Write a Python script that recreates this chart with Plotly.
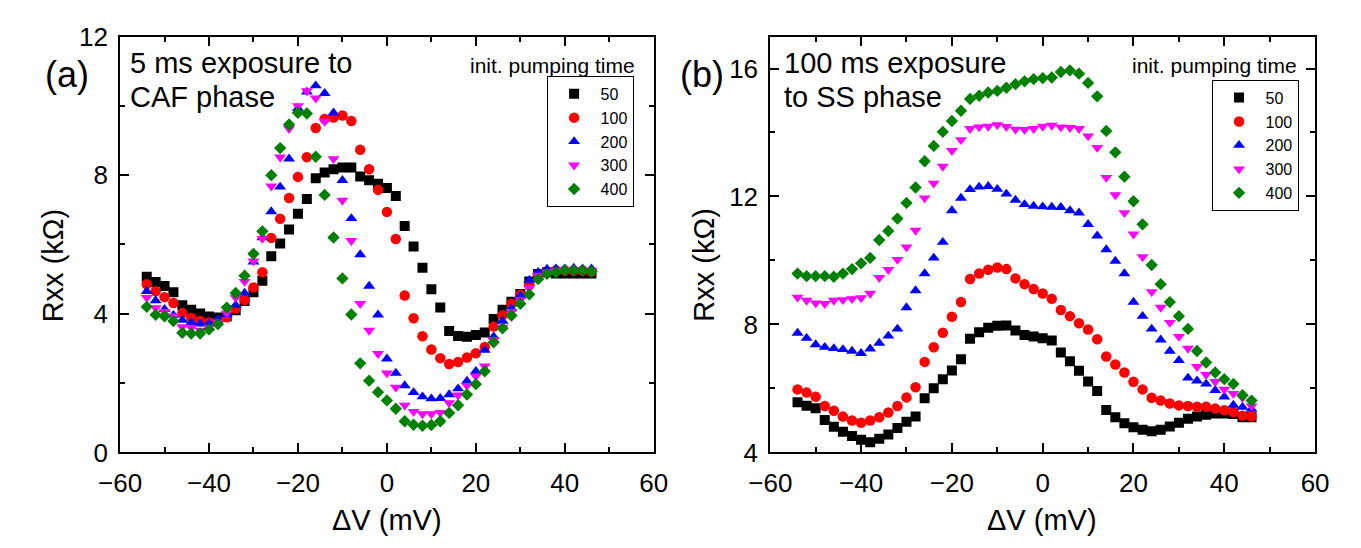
import plotly.graph_objects as go

# ---------------- data ----------------
dV = list(range(-54, 47, 2))  # mV

series_names = ["50", "100", "200", "300", "400"]

# panel (a): 5 ms exposure to CAF phase
a_50 = [5.07, 4.92, 4.80, 4.62, 4.25, 4.12, 4.01, 3.92, 3.89, 3.93, 4.10, 4.37, 4.62, 4.95, 5.66, 6.03, 6.43, 6.89, 7.31, 7.91,
        8.08, 8.17, 8.22, 8.22, 7.96, 7.85, 7.75, 7.63, 7.40, 6.53, 5.94, 5.33, 4.71, 4.18, 3.50, 3.36, 3.34, 3.39, 3.46, 3.85,
        4.12, 4.35, 4.57, 4.93, 5.15, 5.20, 5.16, 5.16, 5.16, 5.16, 5.16]
a_100 = [4.85, 4.65, 4.48, 4.31, 4.02, 3.88, 3.79, 3.75, 3.77, 3.90, 4.15, 4.40, 4.76, 5.20, 6.19, 6.74, 7.34, 7.95, 8.52, 9.36,
         9.62, 9.66, 9.72, 9.56, 8.73, 8.17, 7.58, 6.94, 6.16, 4.53, 3.87, 3.35, 2.97, 2.72, 2.55, 2.61, 2.74, 2.86, 3.04, 3.63,
         3.96, 4.29, 4.55, 4.82, 5.12, 5.21, 5.25, 5.25, 5.25, 5.25, 5.22]
a_200 = [4.65, 4.38, 4.13, 3.96, 3.82, 3.75, 3.71, 3.72, 3.84, 3.98, 4.25, 4.60, 5.50, 6.20, 6.95, 7.66, 8.47, 9.93, 10.40, 10.58,
         10.36, 9.80, 7.85, 6.75, 5.71, 4.80, 3.97, 2.70, 2.29, 1.93, 1.73, 1.61, 1.55, 1.56, 1.67, 1.84, 2.06, 2.34, 2.95, 3.34,
         3.79, 4.15, 4.52, 4.97, 5.20, 5.29, 5.30, 5.30, 5.32, 5.30, 5.30]
a_300 = [4.47, 4.17, 4.06, 3.93, 3.62, 3.60, 3.52, 3.60, 3.76, 4.02, 4.47, 4.93, 5.52, 6.17, 7.68, 8.52, 9.34, 10.00, 10.43, 10.22,
         9.55, 8.47, 7.27, 6.11, 4.29, 3.52, 2.85, 2.29, 1.88, 1.36, 1.18, 1.11, 1.11, 1.15, 1.43, 1.65, 1.93, 2.20, 2.49, 3.25,
         3.61, 4.06, 4.40, 4.75, 5.11, 5.20, 5.25, 5.25, 5.25, 5.22, 5.25]
a_400 = [4.20, 3.97, 3.93, 3.79, 3.45, 3.43, 3.43, 3.55, 3.70, 4.18, 4.60, 5.10, 5.73, 6.38, 8.00, 8.78, 9.46, 9.80, 9.78, 8.53,
         7.43, 6.20, 5.02, 3.98, 2.57, 2.07, 1.74, 1.50, 1.26, 0.90, 0.80, 0.77, 0.79, 0.90, 1.14, 1.36, 1.67, 1.97, 2.34, 3.18,
         3.58, 3.95, 4.29, 4.56, 5.00, 5.15, 5.20, 5.25, 5.25, 5.25, 5.22]

# panel (b): 100 ms exposure to SS phase
b_50 = [5.57, 5.46, 5.38, 5.01, 4.80, 4.65, 4.51, 4.40, 4.32, 4.43, 4.56, 4.76, 4.96, 5.12, 5.69, 6.01, 6.29, 6.56, 6.91, 7.55,
        7.76, 7.90, 7.96, 7.97, 7.81, 7.67, 7.62, 7.57, 7.50, 7.12, 6.85, 6.55, 6.22, 5.92, 5.33, 5.10, 4.91, 4.79, 4.71, 4.66,
        4.71, 4.81, 4.93, 5.05, 5.12, 5.18, 5.22, 5.22, 5.20, 5.10, 5.10]
b_100 = [5.97, 5.87, 5.74, 5.45, 5.30, 5.12, 5.00, 4.93, 5.00, 5.10, 5.25, 5.45, 5.72, 6.04, 6.83, 7.29, 7.74, 8.24, 8.70, 9.42,
         9.59, 9.71, 9.78, 9.73, 9.44, 9.26, 9.11, 8.97, 8.80, 8.45, 8.26, 8.04, 7.84, 7.54, 7.00, 6.75, 6.50, 6.21, 5.97, 5.71,
         5.62, 5.53, 5.47, 5.45, 5.43, 5.43, 5.37, 5.32, 5.26, 5.15, 5.12]
b_200 = [7.73, 7.57, 7.37, 7.29, 7.25, 7.22, 7.17, 7.10, 7.24, 7.42, 7.64, 7.86, 8.53, 9.06, 9.59, 10.08, 10.57, 11.56, 11.95, 12.22,
         12.30, 12.32, 12.23, 12.08, 11.89, 11.75, 11.70, 11.68, 11.67, 11.66, 11.56, 11.49, 11.13, 10.77, 10.34, 9.98, 9.59, 8.70, 8.26, 7.86,
         7.52, 7.17, 6.88, 6.33, 6.24, 6.14, 5.94, 5.74, 5.48, 5.42, 5.35]
b_300 = [8.85, 8.75, 8.67, 8.65, 8.75, 8.77, 8.80, 8.83, 8.97, 9.46, 9.71, 10.03, 10.42, 10.94, 11.95, 12.41, 12.94, 13.43, 13.77, 14.12,
         14.17, 14.19, 14.24, 14.18, 14.10, 14.09, 14.12, 14.19, 14.22, 14.17, 14.15, 14.12, 13.89, 13.53, 12.59, 12.05, 11.49, 10.82, 10.11, 9.02,
         8.53, 8.06, 7.62, 7.25, 6.68, 6.43, 6.21, 5.97, 5.84, 5.71, 5.45]
b_400 = [9.59, 9.51, 9.51, 9.51, 9.49, 9.59, 9.73, 9.91, 10.08, 10.64, 10.92, 11.31, 11.80, 12.28, 13.10, 13.58, 14.02, 14.36, 14.68, 15.05,
         15.15, 15.25, 15.30, 15.40, 15.51, 15.60, 15.67, 15.70, 15.72, 15.89, 15.94, 15.84, 15.55, 15.13, 14.05, 13.38, 12.62, 11.85, 11.13, 9.86,
         9.26, 8.70, 8.26, 7.86, 7.17, 6.81, 6.50, 6.29, 6.14, 5.79, 5.62]

panel_a = [a_50, a_100, a_200, a_300, a_400]
panel_b = [b_50, b_100, b_200, b_300, b_400]

# ---------------- style ----------------
colors = ["#000000", "#FF0000", "#0000FF", "#FF00FF", "#008000"]
symbols = ["square", "circle", "triangle-up", "triangle-down", "diamond"]
sizes = [10, 10.5, 10.5, 10.5, 9.5]
FONT = "Arial, Liberation Sans, sans-serif"
W, H = 1361, 548

fig = go.Figure()
for i, name in enumerate(series_names):
    fig.add_trace(go.Scatter(
        x=dV, y=panel_a[i], mode="markers", name=name,
        marker=dict(symbol=symbols[i], color=colors[i], size=sizes[i], line=dict(width=0)),
        xaxis="x", yaxis="y", legend="legend"))
for i, name in enumerate(series_names):
    fig.add_trace(go.Scatter(
        x=dV, y=panel_b[i], mode="markers", name=name,
        marker=dict(symbol=symbols[i], color=colors[i], size=sizes[i], line=dict(width=0)),
        xaxis="x2", yaxis="y2", legend="legend2"))

def px_x(p):
    return p / W

def px_y(p):
    return 1 - p / H

common = dict(
    showline=True, linecolor="black", linewidth=2, mirror="allticks",
    ticks="inside", ticklen=9, tickwidth=1.5, tickcolor="black",
    showgrid=False, zeroline=False, ticklabeloverflow="allow",
    tickfont=dict(family=FONT, size=26, color="black"),
    minor=dict(ticks="inside", ticklen=5, tickwidth=1.5, tickcolor="black", showgrid=False),
)
xcommon = dict(common, ticklabelstandoff=6)
ycommon = dict(common, ticklabelstandoff=5)

ydom = [px_y(454.3), px_y(14.3)]
legend_style = dict(xanchor="right", yanchor="top",
                    bordercolor="black", borderwidth=1, bgcolor="white",
                    font=dict(family=FONT, size=16, color="black"),
                    itemwidth=43, tracegroupgap=0)
fig.update_layout(
    width=W, height=H,
    margin=dict(l=0, r=0, t=0, b=0),
    paper_bgcolor="white", plot_bgcolor="white",
    font=dict(family=FONT, color="black"),
    xaxis=dict(domain=[px_x(92.5), px_x(640.7)], range=[-60, 60], dtick=20, tick0=0,
               anchor="y", **xcommon),
    yaxis=dict(domain=ydom, range=[0, 12], dtick=4, tick0=0, anchor="x", **ycommon),
    xaxis2=dict(domain=[px_x(760.4), px_x(1320)], range=[-60, 60], dtick=20, tick0=0,
                anchor="y2", **xcommon),
    yaxis2=dict(domain=ydom, range=[4, 17], dtick=4, tick0=4, anchor="x2", **ycommon),
    legend=dict(x=px_x(620), y=px_y(56), **legend_style),
    legend2=dict(x=px_x(1303), y=px_y(60), **legend_style),
)
fig.update_xaxes(minor_dtick=10)
fig.update_yaxes(minor_dtick=2)

def ann(text, x, y, size, xanchor="center", yanchor="middle", angle=0):
    fig.add_annotation(text=text, x=px_x(x), y=px_y(y), xref="paper", yref="paper",
                       showarrow=False, xanchor=xanchor, yanchor=yanchor, textangle=angle,
                       align="left", font=dict(family=FONT, size=size, color="black"))

ann("(a)", 38.5, 54, 36)
ann("(b)", 690, 54, 36)
ann("5 ms exposure to", 101, 42, 29, xanchor="left")
ann("CAF phase", 101, 78, 29, xanchor="left")
ann("100 ms exposure", 772, 42, 29, xanchor="left")
ann("to SS phase", 772, 78, 29, xanchor="left")
ann("init. pumping time", 623, 45, 21, xanchor="right")
ann("init. pumping time", 1303, 45, 21, xanchor="right")
ann("Rxx (k\u03a9)", 24, 256, 29, angle=-90)
ann("Rxx (k\u03a9)", 692, 256, 29, angle=-90)
ann("\u0394V (mV)", 367, 526, 29)
ann("\u0394V (mV)", 1040, 526, 29)

fig.write_html("out.html")
